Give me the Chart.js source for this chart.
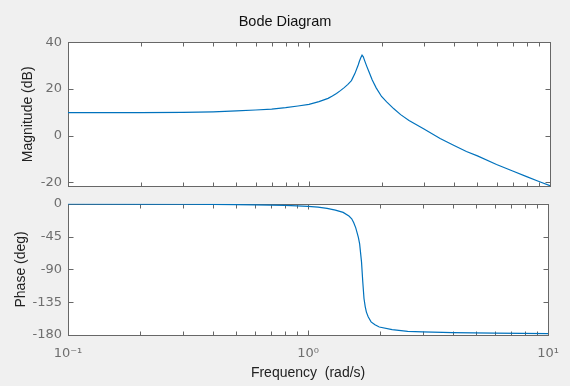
<!DOCTYPE html>
<html>
<head>
<meta charset="utf-8">
<script src="https://cdn.jsdelivr.net/npm/chart.js"></script>
<style>
  body { margin: 0; background: #f0f0f0; }
  #wrap { position: relative; width: 570px; height: 386px; }
  canvas { position: absolute; left: 0; }
  #mag { top: 0; }
  #phase { top: 190px; }
</style>
</head>
<body>
<div id="wrap">
  <canvas id="mag" width="570" height="200"></canvas>
  <canvas id="phase" width="570" height="196"></canvas>
</div>
<script>
// frequency (rad/s) and magnitude (dB)
var freqMag = [0.1, 0.2, 0.3, 0.4, 0.5, 0.6, 0.7, 0.8, 0.9, 1.0, 1.1, 1.2, 1.25, 1.3, 1.35, 1.4, 1.45, 1.5, 1.55, 1.6, 1.62, 1.64, 1.66, 1.68, 1.7, 1.74, 1.77, 1.83, 1.9, 2.0, 2.1, 2.25, 2.4, 2.6, 3.0, 3.5, 4.0, 4.5, 5.0, 6.0, 7.0, 8.0, 9.0, 10];
var magDb = [9.9, 9.9, 9.95, 10.2, 10.6, 11.0, 11.4, 12.0, 12.7, 13.4, 14.6, 16.0, 17.0, 18.1, 19.3, 20.6, 22.0, 23.6, 26.6, 30.3, 32.0, 33.4, 34.5, 33.8, 32.3, 29.5, 27.6, 23.9, 20.5, 16.8, 14.5, 11.5, 9.0, 6.5, 2.8, -1.2, -4.2, -6.8, -8.7, -12.4, -15.2, -17.6, -19.7, -21.5];

// frequency (rad/s) and phase (deg)
var freqPhase = [0.1, 0.2, 0.3, 0.4, 0.5, 0.6, 0.7, 0.8, 0.9, 1.0, 1.1, 1.2, 1.3, 1.4, 1.48, 1.52, 1.55, 1.58, 1.6, 1.62, 1.64, 1.67, 1.69, 1.71, 1.73, 1.75, 1.78, 1.83, 1.9, 1.98, 2.24, 2.6, 3.0, 4.0, 6.0, 10];
var phaseDeg = [-0.2, -0.4, -0.6, -0.8, -1.1, -1.4, -1.7, -2.1, -2.8, -3.4, -4.6, -6.2, -8.6, -11.8, -16.8, -20.5, -25.9, -33, -39.5, -46, -55, -80, -107, -130, -141, -148.6, -155, -162, -166, -169, -172.7, -175, -175.8, -176.7, -177.5, -178];

var xTicks = [0.1, 1, 10];
var xTickLabels = ["10\u207B\u00B9", "10\u2070", "10\u00B9"];
var magTicks = [-20, 0, 20, 40];
var phaseTicks = [-180, -135, -90, -45, 0];

var lineColor = "#0072BD";
var axisColor = "#676767";
var tickColor = "#6e6e6e";
var textColor = "#222222";
var labelFont = { family: "Liberation Sans, Arial, sans-serif", size: 14 };
var tickFont = { family: "DejaVu Sans, sans-serif", size: 13 };

// white axes area, box and inward ticks like MATLAB
var boxPlugin = {
	id: "box",
	beforeDraw: function(chart) {
		var a = chart.chartArea, ctx = chart.ctx;
		ctx.save();
		ctx.fillStyle = "#ffffff";
		ctx.fillRect(a.left, a.top, a.right - a.left, a.bottom - a.top);
		ctx.restore();
	},
	beforeDatasetsDraw: function(chart) {
		var a = chart.chartArea, ctx = chart.ctx;
		var x = chart.scales.x, y = chart.scales.y;
		var l = Math.round(a.left) + 0.5, r = Math.round(a.right) + 0.5;
		var t = Math.round(a.top) + 0.5, b = Math.round(a.bottom) + 0.5;
		ctx.save();
		ctx.strokeStyle = axisColor;
		ctx.lineWidth = 1;
		ctx.beginPath();
		// x ticks, major and minor
		for (var d = 0.1; d < 10; d *= 10) {
			for (var k = 1; k <= 9; k++) {
				var px = Math.round(x.getPixelForValue(k * d)) + 0.5;
				var len = k == 1 ? 5 : 4;
				ctx.moveTo(px, b); ctx.lineTo(px, b - len);
				ctx.moveTo(px, t); ctx.lineTo(px, t + len);
			}
		}
		y.ticks.forEach(function(tk) {
			var py = Math.round(y.getPixelForValue(tk.value)) + 0.5;
			ctx.moveTo(l, py); ctx.lineTo(l + 5, py);
			ctx.moveTo(r, py); ctx.lineTo(r - 5, py);
		});
		ctx.stroke();
		ctx.strokeRect(l, t, r - l, b - t);
		ctx.restore();
	}
};

function toPoints(xs, ys) {
	var pts = [];
	for (var i in xs) {
		pts.push({ x: xs[i], y: ys[i] });
	}
	return pts;
}

// empty right axis keeps the right margin so the title centres on the page
var rightGap = {
	position: "right",
	display: true,
	afterFit: function(s) { s.width = 20; },
	grid: { display: false, drawTicks: false },
	border: { display: false },
	ticks: { display: false }
};

var magChart = new Chart(document.getElementById("mag").getContext("2d"), {
	type: "line",
	data: {
		datasets: [{
			data: toPoints(freqMag, magDb),
			borderColor: lineColor,
			borderWidth: 1.2,
			pointRadius: 0,
			fill: false,
			tension: 0
		}]
	},
	options: {
		responsive: false,
		animation: false,
		layout: { padding: { top: 0, left: 0, right: 0, bottom: 10 } },
		plugins: {
			legend: { display: false },
			tooltip: { enabled: false },
			title: {
				display: true,
				text: "Bode Diagram",
				color: "#111111",
				font: { family: labelFont.family, size: 14.5, weight: "normal" },
				padding: { top: 13, bottom: 12 }
			}
		},
		scales: {
			x: { type: "logarithmic", min: 0.1, max: 10, display: false },
			y: {
				min: -21.7,
				max: 40,
				afterBuildTicks: function(s) { s.ticks = magTicks.map(function(v) { return { value: v }; }); },
				afterFit: function(s) { s.width = 68; },
				grid: { display: false, drawTicks: false },
				border: { display: false },
				ticks: { color: tickColor, font: tickFont, padding: 6 },
				title: {
					display: true,
					text: "Magnitude (dB)",
					color: textColor,
					font: labelFont,
					padding: { top: 19.6, bottom: 0 }
				}
			},
			yr: rightGap
		}
	},
	plugins: [boxPlugin]
});

var phaseChart = new Chart(document.getElementById("phase").getContext("2d"), {
	type: "line",
	data: {
		datasets: [{
			data: toPoints(freqPhase, phaseDeg),
			borderColor: lineColor,
			borderWidth: 1.2,
			pointRadius: 0,
			fill: false,
			tension: 0
		}]
	},
	options: {
		responsive: false,
		animation: false,
		layout: { padding: { top: 13, left: 0, right: 20, bottom: 0 } },
		plugins: {
			legend: { display: false },
			tooltip: { enabled: false }
		},
		scales: {
			x: {
				type: "logarithmic",
				min: 0.1,
				max: 10,
				afterBuildTicks: function(s) { s.ticks = xTicks.map(function(v) { return { value: v }; }); },
				afterFit: function(s) { s.height = 51; },
				grid: { display: false, drawTicks: false },
				border: { display: false },
				ticks: {
					color: tickColor,
					font: tickFont,
					padding: 11,
					maxRotation: 0,
					autoSkip: false,
					callback: function(v, i) { return xTickLabels[i]; }
				},
				title: {
					display: true,
					text: "Frequency  (rad/s)",
					color: textColor,
					font: labelFont,
					padding: { top: 0, bottom: 4.6 }
				}
			},
			y: {
				min: -180,
				max: 0,
				afterBuildTicks: function(s) { s.ticks = phaseTicks.map(function(v) { return { value: v }; }); },
				afterFit: function(s) { s.width = 68; },
				grid: { display: false, drawTicks: false },
				border: { display: false },
				ticks: { color: tickColor, font: tickFont, padding: 6 },
				title: {
					display: true,
					text: "Phase (deg)",
					color: textColor,
					font: labelFont,
					padding: { top: 12.6, bottom: 0 }
				}
			}
		}
	},
	plugins: [boxPlugin]
});
</script>
</body>
</html>
